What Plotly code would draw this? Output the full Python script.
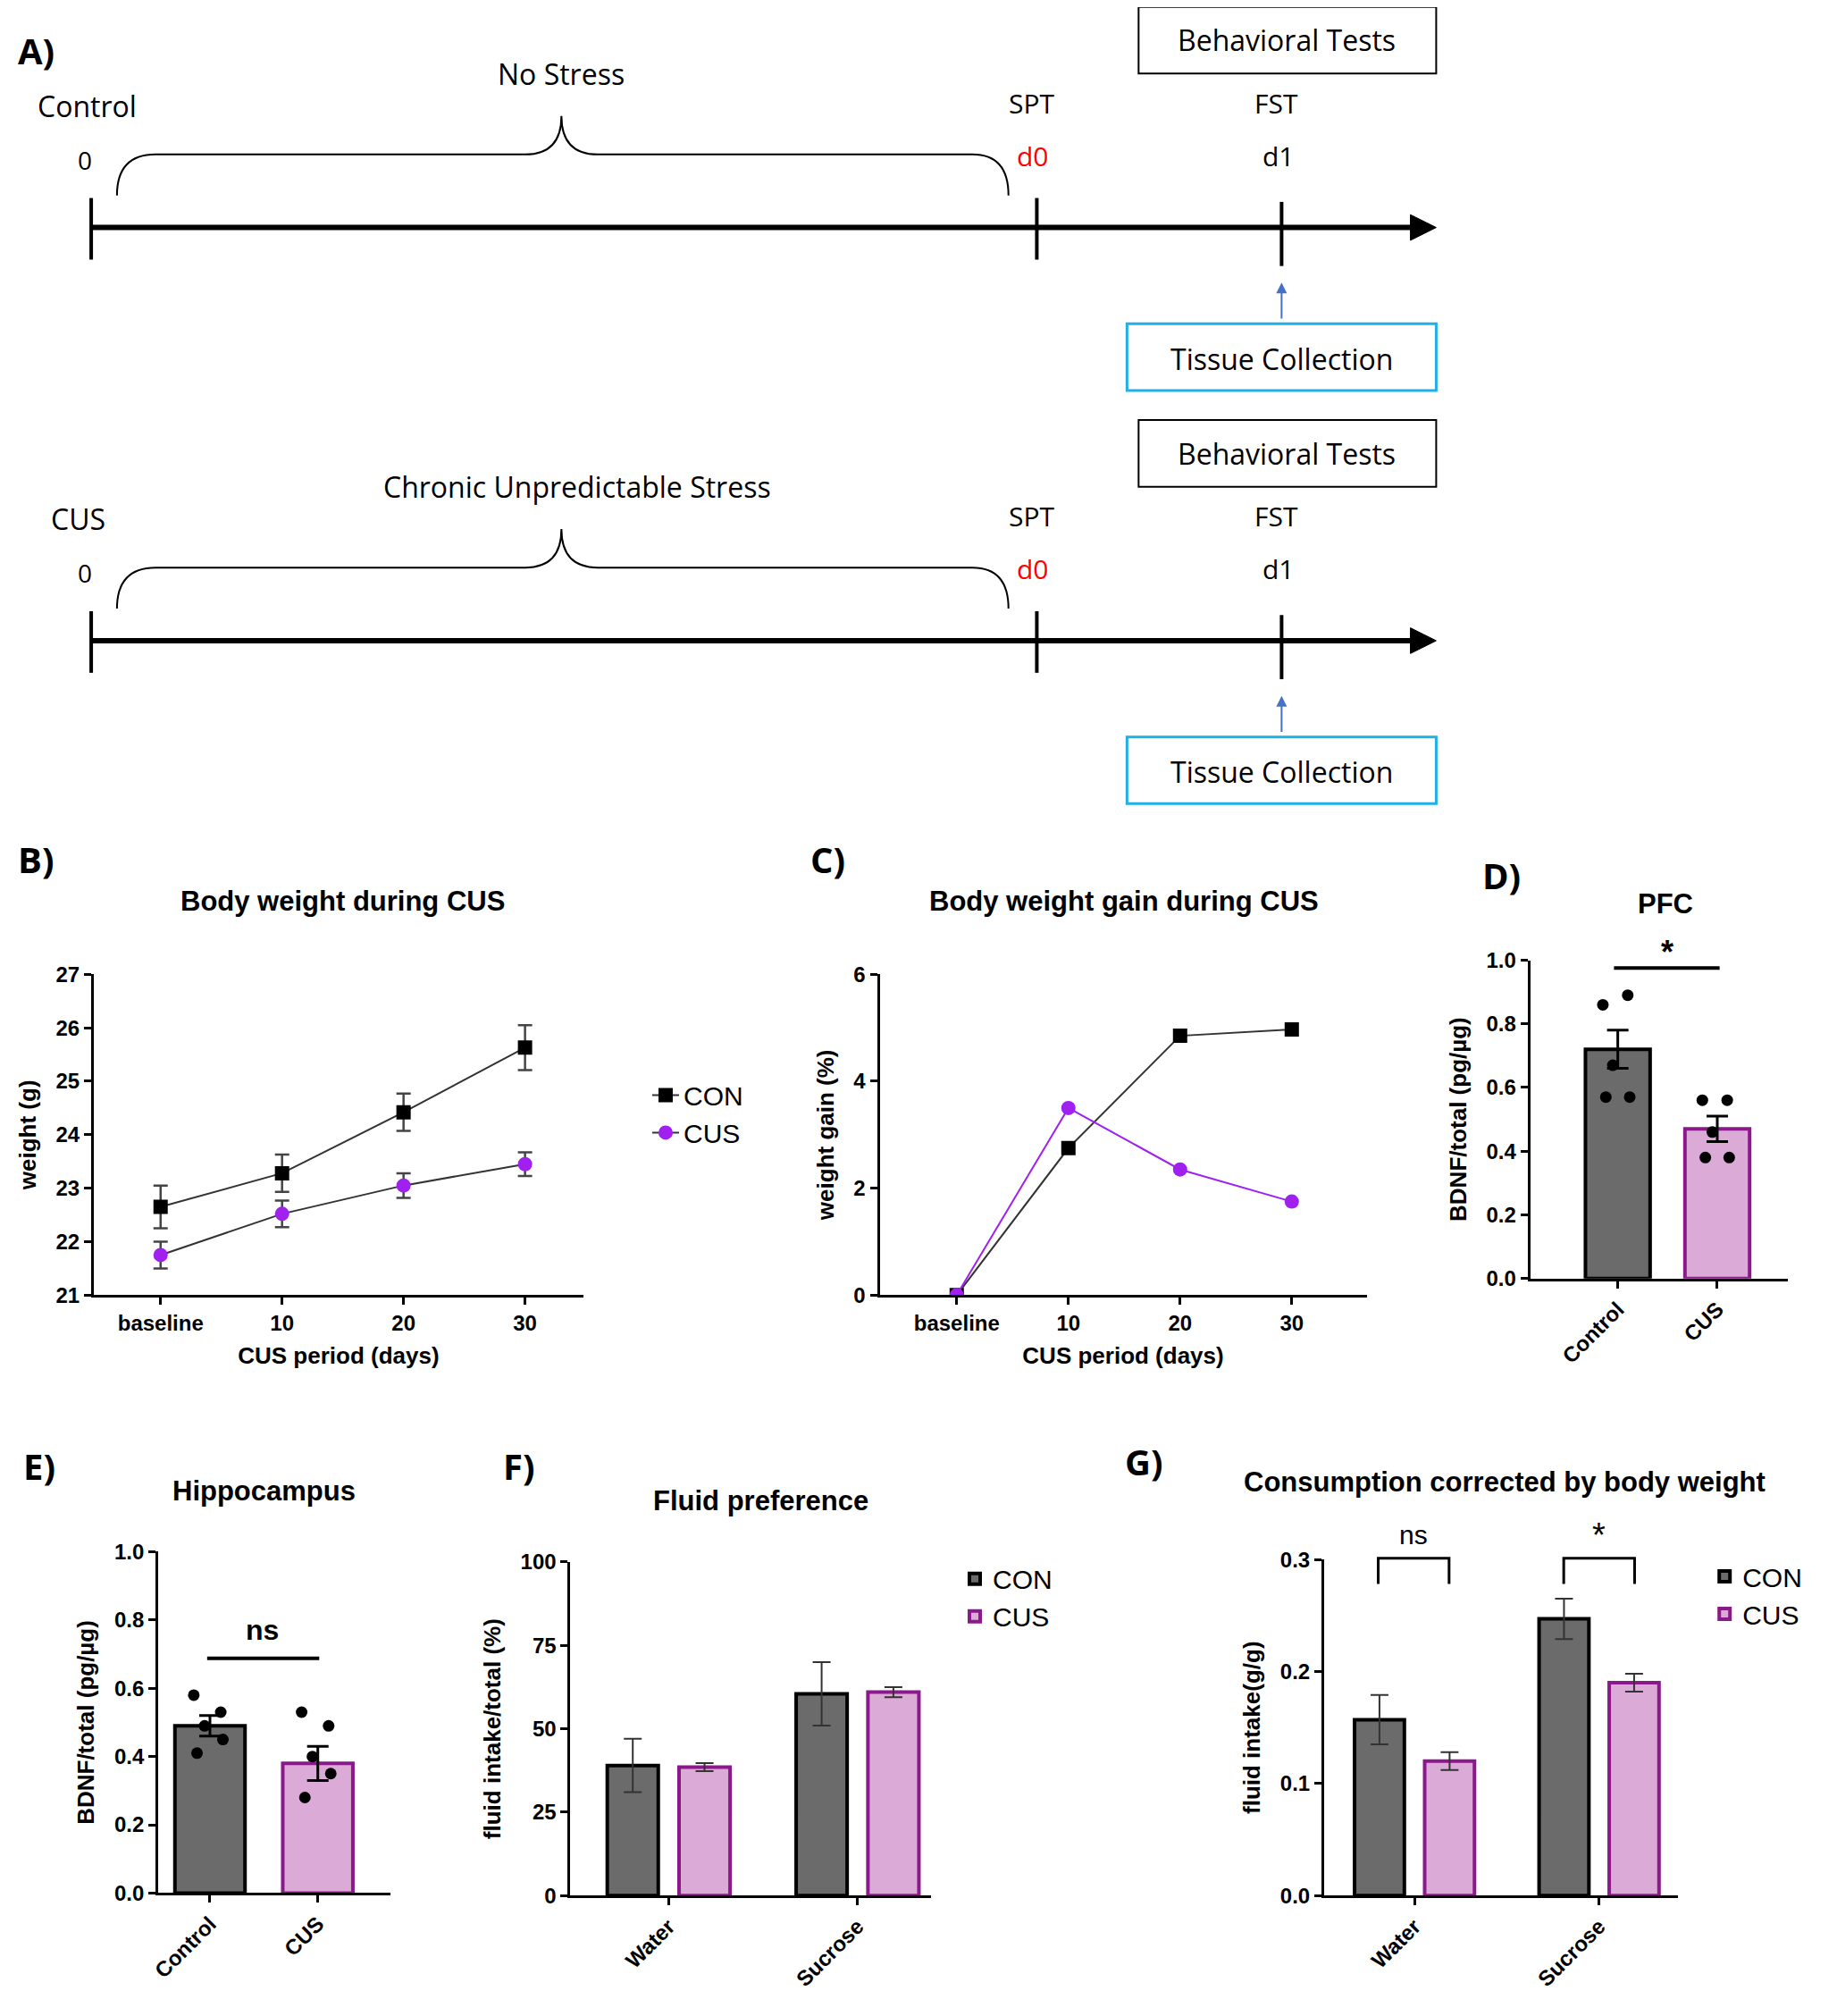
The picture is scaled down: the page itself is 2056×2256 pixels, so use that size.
import plotly.graph_objects as go

W, H = 2056, 2256
SW, SH = 1434.0, 1568.0  # sketch coordinate space


def px(x):
    return (x - 9) / 0.99 / SW


def py(y):
    return 1 - (y - 13) / 0.99 / SH


# ---- data ----
days = ["baseline", "10", "20", "30"]
weight_con = [22.65, 23.28, 24.42, 25.63]
weight_con_err = [0.40, 0.35, 0.35, 0.42]
weight_cus = [21.75, 22.52, 23.05, 23.45]
weight_cus_err = [0.25, 0.25, 0.23, 0.22]
weight_stars = ["", "", "*", "***"]

gain_con = [0, 2.75, 4.85, 4.97]
gain_cus = [0, 3.5, 2.35, 1.75]
gain_stars = ["", "", "***", "*"]

groups = ["Control", "CUS"]
pfc_mean = [0.72, 0.47]
pfc_err = [0.06, 0.04]
pfc_ctrl_pts = [0.86, 0.89, 0.67, 0.57, 0.57]
pfc_cus_pts = [0.56, 0.56, 0.46, 0.38, 0.38]

hip_mean = [0.49, 0.38]
hip_err = [0.03, 0.05]
hip_ctrl_pts = [0.58, 0.53, 0.49, 0.45, 0.41]
hip_cus_pts = [0.53, 0.49, 0.40, 0.35, 0.28]
jitter = [-0.15, 0.1, -0.05, 0.12, -0.12]

fluids = ["Water", "Sucrose"]
pref_con = [39, 60.5]
pref_con_err = [8, 9.5]
pref_cus = [38.5, 61]
pref_cus_err = [1.2, 1.5]

cons_con = [0.157, 0.247]
cons_con_err = [0.022, 0.018]
cons_cus = [0.120, 0.190]
cons_cus_err = [0.008, 0.008]

GRAY = "#6b6b6b"
PINK = "#dcaad6"
PURPLE = "#8a1a8a"
VIOLET = "#a020f0"
AF = "Liberation Sans"
TF = "Open Sans"

fig = go.Figure()
shapes = []
ann = []


def axstyle(**kw):
    d = dict(showline=True, linecolor="black", linewidth=3, ticks="outside",
             tickwidth=3, ticklen=8, tickcolor="black", showgrid=False, zeroline=False,
             tickfont=dict(family=AF, size=24, color="black", weight="bold"), fixedrange=True)
    d.update(kw)
    return d


def text(x, y, s, size=32, color="black", family=TF, bold=False, **kw):
    if bold:
        s = "<b>" + s + "</b>"
    ann.append(dict(x=px(x), y=py(y), xref="paper", yref="paper", text=s, showarrow=False,
                    xanchor="center", yanchor="middle",
                    font=dict(family=family, size=size, color=color), **kw))


# ---- panel A ----
def timeline(dy, group, label):
    y = 175 + dy
    shapes.append(dict(type="line", xref="paper", yref="paper", x0=px(68), x1=px(1100),
                       y0=py(y), y1=py(y), line=dict(color="black", width=6)))
    shapes.append(dict(type="path", xref="paper", yref="paper", fillcolor="black",
                       line=dict(color="black", width=1),
                       path=f"M {px(1092)} {py(y-10)} L {px(1112)} {py(y)} L {px(1092)} {py(y+10)} Z"))
    for tx, y0, y1 in [(68, 152, 200), (802, 152, 200), (992, 155, 205)]:
        shapes.append(dict(type="line", xref="paper", yref="paper", x0=px(tx), x1=px(tx),
                           y0=py(y0 + dy), y1=py(y1 + dy), line=dict(color="black", width=4)))
    # brace
    b = lambda x, yy: f"{px(x)} {py(yy + dy)}"
    path = (f"M {b(88,150)} Q {b(88,118)} {b(118,118)} L {b(405,118)} Q {b(433,118)} {b(433,88)} "
            f"Q {b(433,118)} {b(461,118)} L {b(752,118)} Q {b(780,118)} {b(780,150)}")
    shapes.append(dict(type="path", xref="paper", yref="paper", path=path,
                       line=dict(color="black", width=2)))
    # boxes
    shapes.append(dict(type="rect", xref="paper", yref="paper", x0=px(881), x1=px(1112),
                       y0=py(3 + dy), y1=py(55 + dy), line=dict(color="black", width=2)))
    shapes.append(dict(type="rect", xref="paper", yref="paper", x0=px(872), x1=px(1112),
                       y0=py(250 + dy), y1=py(302 + dy), line=dict(color="#1fb0e6", width=3)))
    ann.append(dict(x=px(992), y=py(218 + dy), xref="paper", yref="paper",
                    ax=0, ay=(247 - 218) * H / SH, showarrow=True, arrowhead=2, arrowsize=1.2,
                    arrowwidth=2, arrowcolor="#4472c4", text=""))
    text(996, 29 + dy, "Behavioral Tests")
    text(992, 277 + dy, "Tissue Collection")
    text(label[1], 80 + dy, label[0])
    text(group[0], 55 + dy, group[1])
    text(63, 122 + dy, "0", size=28)
    text(798, 78 + dy, "SPT", size=30)
    text(799, 119 + dy, "d0", size=30, color="red")
    text(988, 78 + dy, "FST", size=30)
    text(990, 119 + dy, "d1", size=30)


timeline(0, (433, "No Stress"), ("Control", 65))
timeline(322, (445, "Chronic Unpredictable Stress"), ("CUS", 58))
text(25, 37, "A)", size=40, bold=True)

# ---- panel B ----
xi = list(range(len(days)))
fig.add_trace(go.Scatter(x=xi, y=weight_con, name="CON", mode="lines+markers",
                         line=dict(color="#333333", width=2), marker=dict(symbol="square", size=16, color="black"),
                         error_y=dict(array=weight_con_err, color="#444444", thickness=2.5, width=8),
                         xaxis="x", yaxis="y", legend="legend"))
fig.add_trace(go.Scatter(x=xi, y=weight_cus, name="CUS", mode="lines+markers",
                         line=dict(color="#333333", width=2), marker=dict(symbol="circle", size=16, color=VIOLET),
                         error_y=dict(array=weight_cus_err, color="#444444", thickness=2.5, width=8),
                         xaxis="x", yaxis="y", legend="legend"))
fig.add_trace(go.Scatter(x=xi, y=[27.25] * 4, text=weight_stars, mode="text",
                         textfont=dict(family=AF, size=34, color="black"), showlegend=False,
                         xaxis="x", yaxis="y", cliponaxis=False))

# ---- panel C ----
fig.add_trace(go.Scatter(x=xi, y=gain_con, name="CON", mode="lines+markers",
                         line=dict(color="#333333", width=2), marker=dict(symbol="square", size=16, color="black"),
                         showlegend=False, xaxis="x2", yaxis="y2"))
fig.add_trace(go.Scatter(x=xi, y=gain_cus, name="CUS", mode="lines+markers",
                         line=dict(color=VIOLET, width=2), marker=dict(symbol="circle", size=16, color=VIOLET),
                         showlegend=False, xaxis="x2", yaxis="y2"))
fig.add_trace(go.Scatter(x=xi, y=[6.25] * 4, text=gain_stars, mode="text",
                         textfont=dict(family=AF, size=34, color="black"), showlegend=False,
                         xaxis="x2", yaxis="y2", cliponaxis=False))


# ---- panels D and E ----
def dot_bars(xa, ya, mean, err, pts_a, pts_b):
    fig.add_trace(go.Bar(x=[0, 1], y=mean, width=0.65, marker=dict(color=[GRAY, PINK],
                         line=dict(color=["black", PURPLE], width=4)),
                         error_y=dict(array=err, color="black", thickness=3, width=12),
                         showlegend=False, xaxis=xa, yaxis=ya))
    for i, pts in enumerate([pts_a, pts_b]):
        fig.add_trace(go.Scatter(x=[i + j for j in jitter], y=pts, mode="markers",
                                 marker=dict(color="black", size=13), showlegend=False,
                                 xaxis=xa, yaxis=ya))


dot_bars("x3", "y3", pfc_mean, pfc_err, pfc_ctrl_pts, pfc_cus_pts)
dot_bars("x4", "y4", hip_mean, hip_err, hip_ctrl_pts, hip_cus_pts)


# ---- panels F and G ----
def group_bars(xa, ya, leg, con, con_err, cus, cus_err):
    fig.add_trace(go.Bar(x=[i - 0.19 for i in range(2)], y=con, width=0.27, name="CON",
                         marker=dict(color=GRAY, line=dict(color="black", width=4)),
                         error_y=dict(array=con_err, color="#333333", thickness=2, width=10),
                         xaxis=xa, yaxis=ya, legend=leg))
    fig.add_trace(go.Bar(x=[i + 0.19 for i in range(2)], y=cus, width=0.27, name="CUS",
                         marker=dict(color=PINK, line=dict(color=PURPLE, width=4)),
                         error_y=dict(array=cus_err, color="#333333", thickness=2, width=10),
                         xaxis=xa, yaxis=ya, legend=leg))


group_bars("x5", "y5", "legend2", pref_con, pref_con_err, pref_cus, pref_cus_err)
group_bars("x6", "y6", "legend3", cons_con, cons_con_err, cons_cus, cons_cus_err)

# significance marks
shapes.append(dict(type="line", xref="paper", yref="paper", x0=px(1250), x1=px(1332),
                   y0=py(752), y1=py(752), line=dict(color="black", width=4)))
text(1291, 740, "*", size=36, family=AF, bold=True)
shapes.append(dict(type="line", xref="paper", yref="paper", x0=px(158), x1=px(245),
                   y0=py(1290), y1=py(1290), line=dict(color="black", width=4)))
text(201, 1268, "ns", size=32, family=AF, bold=True)
for x0, x1, lab, sz in [(1067, 1122, "ns", 30), (1211, 1266, "*", 38)]:
    p = f"M {px(x0)} {py(1232)} L {px(x0)} {py(1212)} L {px(x1)} {py(1212)} L {px(x1)} {py(1232)}"
    shapes.append(dict(type="path", xref="paper", yref="paper", path=p, line=dict(color="black", width=3)))
    text((x0 + x1) / 2, 1194, lab, size=sz, family=AF)

# titles & panel letters
for x, y, s in [(263, 700, "Body weight during CUS"), (870, 700, "Body weight gain during CUS"),
                (1290, 702, "PFC"), (202, 1160, "Hippocampus"), (588, 1167, "Fluid preference"),
                (1165, 1153, "Consumption corrected by body weight")]:
    text(x, y, s, size=31, family=AF, bold=True)
for x, y, s in [(25, 667, "B)"), (640, 667, "C)"), (1163, 680, "D)"), (28, 1140, "E)"),
                (400, 1140, "F)"), (885, 1137, "G)")]:
    text(x, y, s, size=40, bold=True)

tf = dict(family=AF, size=26, color="black")
ttl = lambda s: dict(text="<b>" + s + "</b>", font=tf)
lf = dict(family=AF, size=30, color="black")
fig.update_layout(
    width=W, height=H, margin=dict(l=0, r=0, t=0, b=0), plot_bgcolor="white", paper_bgcolor="white",
    barmode="overlay", shapes=shapes, annotations=ann,
    xaxis=axstyle(domain=[px(70), px(450)], range=[-0.55, 3.48], tickvals=xi, ticktext=days,
                  title=ttl("CUS period (days)")),
    yaxis=axstyle(domain=[py(1007), py(757)], range=[21, 27], dtick=1, title=ttl("weight (g)")),
    xaxis2=axstyle(domain=[px(680), px(1058)], range=[-0.69, 3.67], tickvals=xi, ticktext=days,
                   title=ttl("CUS period (days)"), anchor="y2"),
    yaxis2=axstyle(domain=[py(1007), py(757)], range=[0, 6], dtick=2, title=ttl("weight gain (%)"),
                   anchor="x2"),
    xaxis3=axstyle(domain=[px(1185), px(1385)], range=[-0.88, 1.71], tickvals=[0, 1], ticktext=groups,
                   tickangle=-45, anchor="y3"),
    yaxis3=axstyle(domain=[py(994), py(746)], range=[0, 1.0], dtick=0.2, tickformat=".1f",
                   title=ttl("BDNF/total (pg/µg)"), anchor="x3"),
    xaxis4=axstyle(domain=[px(120), px(300)], range=[-0.48, 1.67], tickvals=[0, 1], ticktext=groups,
                   tickangle=-45, anchor="y4"),
    yaxis4=axstyle(domain=[py(1473), py(1207)], range=[0, 1.0], dtick=0.2, tickformat=".1f",
                   title=ttl("BDNF/total (pg/µg)"), anchor="x4"),
    xaxis5=axstyle(domain=[px(440), px(720)], range=[-0.52, 1.39], tickvals=[0, 1], ticktext=fluids,
                   tickangle=-45, anchor="y5"),
    yaxis5=axstyle(domain=[py(1475), py(1215)], range=[0, 100], dtick=25,
                   title=ttl("fluid intake/total (%)"), anchor="x5"),
    xaxis6=axstyle(domain=[px(1025), px(1300)], range=[-0.49, 1.43], tickvals=[0, 1], ticktext=fluids,
                   tickangle=-45, anchor="y6"),
    yaxis6=axstyle(domain=[py(1475), py(1213)], range=[0, 0.3], dtick=0.1, tickformat=".1f",
                   title=ttl("fluid intake(g/g)"), anchor="x6"),
    legend=dict(x=px(500), y=py(833), xanchor="left", yanchor="top", font=lf,
                bgcolor="rgba(0,0,0,0)"),
    legend2=dict(x=px(740), y=py(1210), xanchor="left", yanchor="top", font=lf,
                 bgcolor="rgba(0,0,0,0)"),
    legend3=dict(x=px(1322), y=py(1208), xanchor="left", yanchor="top", font=lf,
                 bgcolor="rgba(0,0,0,0)"),
)

fig.write_html("out.html")
